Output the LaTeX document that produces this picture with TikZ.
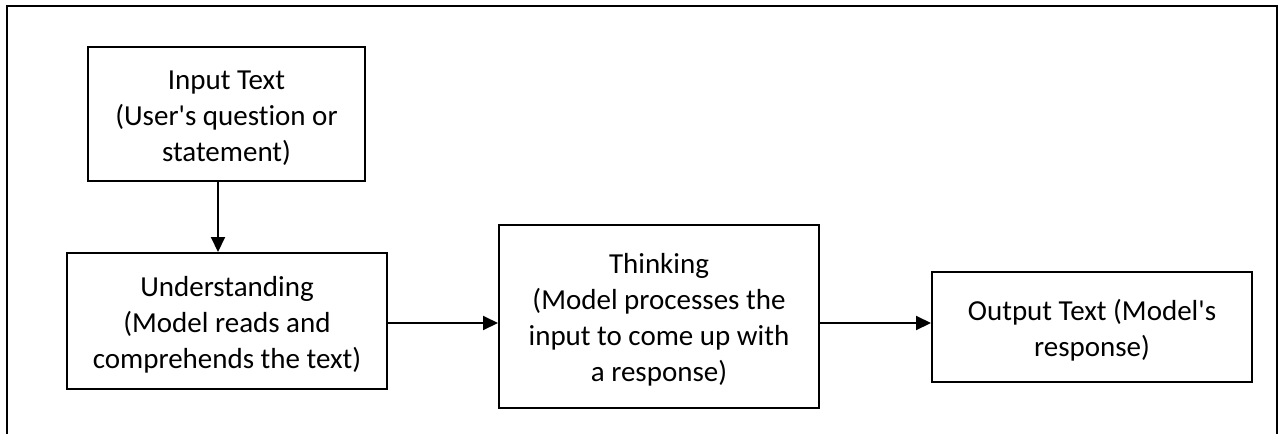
\documentclass[tikz,border=0pt]{standalone}
\usepackage{fontspec}
\setmainfont[Ligatures={NoCommon,NoRequired}]{Carlito}
\usetikzlibrary{arrows.meta,calc}
\begin{document}
\begin{tikzpicture}[x=1pt,y=-1pt,
  box/.style={draw,line width=2pt,inner sep=0pt},
  txt/.style={align=center,inner sep=0pt,font=\fontsize{29}{36}\selectfont},
  arr/.style={line width=2pt,-{Triangle[length=15pt,width=14pt]}}]
\useasboundingbox (0,0) rectangle (1282,434);
\draw[line width=2pt] (7,434) -- (7,6) -- (1277,6) -- (1277,434);
\node[box,minimum width=277pt,minimum height=134pt] (in) at (226.5,114) {};
\node[box,minimum width=320pt,minimum height=136pt] (und) at (227,321) {};
\node[box,minimum width=320pt,minimum height=183pt] (th) at (659,316.5) {};
\node[box,minimum width=320pt,minimum height=110pt] (out) at (1092,327) {};
\node[txt] (inT) at ([yshift=-4pt]in.center) {Input Text\\(User\textquotesingle s question or\\statement)};
\node[txt] (undT) at ([yshift=-4pt]und.center) {Understanding\\(Model reads and\\comprehends the text)};
\node[txt] (thT) at ([yshift=-3pt]th.center) {Thinking\\(Model processes the\\input to come up with\\a response)};
\node[txt] (outT) at ([yshift=-3pt]out.center) {Output Text (Model\textquotesingle s\\response)};
\draw[arr] ([xshift=-8.5pt]in.south) -- ([xshift=-8.5pt]in.south |- und.north);
\draw[arr] ([yshift=-2pt]und.east) -- ([yshift=-2pt]und.east -| th.west);
\draw[arr] ([yshift=-2pt]und.east -| th.east) -- ([yshift=-2pt]und.east -| out.west);
\end{tikzpicture}
\end{document}
